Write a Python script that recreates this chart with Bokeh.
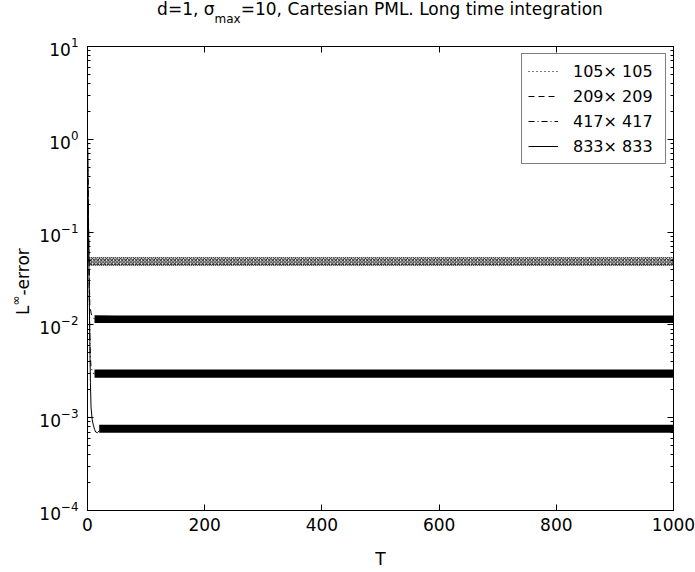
from bokeh.plotting import figure
from bokeh.layouts import column, row
from bokeh.models import (Range1d, LinearAxis, LogAxis, FixedTicker, LogTicker,
                          Legend, LegendItem, CustomJSTickFormatter, Div)
from bokeh.embed import file_html
from bokeh.resources import INLINE

FONT = "DejaVu Sans"

# ---------------- data ----------------
X_TICKS = [0, 200, 400, 600, 800, 1000]
LABELS = ["105\u00d7 105", "209\u00d7 209", "417\u00d7 417", "833\u00d7 833"]

# initial transients
T_105 = [0, 0.5, 1, 1.5, 2, 3]
E_105 = [1.0, 0.3, 0.09, 0.055, 0.05, 0.048]
T_209 = [0, 1, 2, 3, 4, 5, 6, 8, 10, 12]
E_209 = [1.0, 0.32, 0.1, 0.035, 0.016, 0.015, 0.0135, 0.012, 0.0118, 0.0116]
T_417 = [0, 1, 2, 3, 4, 5, 6, 8, 10, 12]
E_417 = [1.0, 0.3, 0.08, 0.022, 0.008, 0.0045, 0.0035, 0.0032, 0.0030, 0.0030]
T_833 = [0, 1, 2, 3, 4, 5, 6, 8, 10, 12, 14, 17, 20]
E_833 = [1.0, 0.3, 0.08, 0.02, 0.006, 0.0024, 0.0013, 0.00095, 0.00083, 0.00075, 0.00070, 0.00069, 0.00072]

# long-time oscillation envelopes (upper / lower) on a common time grid
BAND_T = [50, 100, 150, 200, 250, 300, 350, 400, 450, 500,
          550, 600, 650, 700, 750, 800, 850, 900, 950, 1000]
START_105, START_209, START_417, START_833 = 3, 12, 12, 20
HI_105 = [0.053, 0.053, 0.053, 0.053, 0.053, 0.053, 0.053, 0.053, 0.053, 0.053, 0.053,
          0.053, 0.053, 0.053, 0.053, 0.053, 0.053, 0.053, 0.053, 0.053, 0.053]
LO_105 = [0.044, 0.044, 0.044, 0.044, 0.044, 0.044, 0.044, 0.044, 0.044, 0.044, 0.044,
          0.044, 0.044, 0.044, 0.044, 0.044, 0.044, 0.044, 0.044, 0.044, 0.044]
HI_209 = [0.0127, 0.0126, 0.0126, 0.0126, 0.0126, 0.0126, 0.0126, 0.0126, 0.0126, 0.0126, 0.0126,
          0.0126, 0.0126, 0.0126, 0.0126, 0.0126, 0.0126, 0.0126, 0.0126, 0.0126, 0.0126]
LO_209 = [0.0105, 0.0105, 0.0105, 0.0105, 0.0105, 0.0105, 0.0105, 0.0105, 0.0105, 0.0105, 0.0105,
          0.0105, 0.0105, 0.0105, 0.0105, 0.0105, 0.0105, 0.0105, 0.0105, 0.0105, 0.0105]
HI_417 = [0.0033, 0.0033, 0.0033, 0.0033, 0.0033, 0.0033, 0.0033, 0.0033, 0.0033, 0.0033, 0.0033,
          0.0033, 0.0033, 0.0033, 0.0033, 0.0033, 0.0033, 0.0033, 0.0033, 0.0033, 0.0033]
LO_417 = [0.0027, 0.0027, 0.0027, 0.0027, 0.0027, 0.0027, 0.0027, 0.0027, 0.0027, 0.0027, 0.0027,
          0.0027, 0.0027, 0.0027, 0.0027, 0.0027, 0.0027, 0.0027, 0.0027, 0.0027, 0.0027]
HI_833 = [0.00084, 0.00084, 0.00084, 0.00084, 0.00084, 0.00084, 0.00084, 0.00084, 0.00084, 0.00084, 0.00084,
          0.00084, 0.00084, 0.00084, 0.00084, 0.00084, 0.00084, 0.00084, 0.00084, 0.00084, 0.00084]
LO_833 = [0.00069, 0.00069, 0.00069, 0.00069, 0.00069, 0.00069, 0.00069, 0.00069, 0.00069, 0.00069, 0.00069,
          0.00069, 0.00069, 0.00069, 0.00069, 0.00069, 0.00069, 0.00069, 0.00069, 0.00069, 0.00069]

# ---------------- figure ----------------
p = figure(width=659, height=538, output_backend="svg", toolbar_location=None,
           x_range=Range1d(0, 1000), y_range=Range1d(1e-4, 10), y_axis_type="log",
           min_border_left=51, min_border_right=22, min_border_top=12, min_border_bottom=62,
           margin=0)
p.grid.visible = False
p.outline_line_color = "black"
p.background_fill_color = "white"
p.border_fill_color = "white"


def style(ax):
    ax.axis_line_color = "black"
    ax.axis_line_width = 1
    ax.major_tick_in = 6
    ax.major_tick_out = 0
    ax.minor_tick_in = 3
    ax.minor_tick_out = 0
    ax.major_tick_line_color = "black"
    ax.minor_tick_line_color = "black"
    ax.major_label_text_font = FONT
    ax.major_label_text_font_size = "17px"
    ax.major_label_text_color = "black"


xa = p.xaxis[0]
xa.ticker = FixedTicker(ticks=X_TICKS)
xa.major_label_standoff = 7
style(xa)
xa.axis_label = "T"
xa.axis_label_text_font = FONT
xa.axis_label_text_font_size = "17px"
xa.axis_label_text_font_style = "normal"
xa.axis_label_text_color = "black"
xa.axis_label_standoff = 15

ya = p.yaxis[0]
ya.ticker = LogTicker(num_minor_ticks=10, desired_num_ticks=6)
ya.major_label_standoff = 9
style(ya)

blank = CustomJSTickFormatter(code="return ''")
top = LinearAxis(ticker=FixedTicker(ticks=X_TICKS), formatter=blank)
style(top)
top.major_label_text_font_size = "1px"
top.major_label_standoff = 0
p.add_layout(top, "above")
right = LogAxis(ticker=LogTicker(num_minor_ticks=10, desired_num_ticks=6), formatter=blank)
style(right)
right.major_label_text_font_size = "1px"
right.major_label_standoff = 0
p.add_layout(right, "right")

# ---------------- bands ----------------
p.varea(x=[START_105] + BAND_T, y1=LO_105, y2=HI_105, fill_color=None,
        hatch_pattern="x", hatch_color="#111111", hatch_scale=3.5, hatch_weight=1)
p.line([START_105] + BAND_T, HI_105, line_color="black", line_width=1, line_dash="1 1")
p.line([START_105] + BAND_T, LO_105, line_color="black", line_width=1, line_dash="1 1")
p.varea(x=[START_209] + BAND_T, y1=LO_209, y2=HI_209, fill_color="black")
p.varea(x=[START_417] + BAND_T, y1=LO_417, y2=HI_417, fill_color="black")
p.varea(x=[START_833] + BAND_T, y1=LO_833, y2=HI_833, fill_color="black")

# ---------------- transient lines (also used for legend) ----------------
r105 = p.line(T_105, E_105, line_color="black", line_width=1, line_dash="1 3")
r209 = p.line(T_209, E_209, line_color="black", line_width=1, line_dash="6 4")
r417 = p.line(T_417, E_417, line_color="black", line_width=1, line_dash="6 3 1 3")
r833 = p.line(T_833, E_833, line_color="black", line_width=1)

legend = Legend(items=[LegendItem(label=LABELS[0], renderers=[r105]),
                       LegendItem(label=LABELS[1], renderers=[r209]),
                       LegendItem(label=LABELS[2], renderers=[r417]),
                       LegendItem(label=LABELS[3], renderers=[r833])],
                location="top_right", margin=7, padding=6, spacing=3,
                glyph_width=30, glyph_height=22, label_height=22, label_width=86,
                label_standoff=15,
                label_text_font=FONT, label_text_font_size="16px", label_text_color="black",
                border_line_color="black", border_line_width=1,
                background_fill_color="white", background_fill_alpha=1)
p.add_layout(legend)

# ---------------- title and y label (HTML for sub/superscripts) ----------------
title_html = (
    "<div style=\"position:relative; width:695px; height:34px;\">"
    "<div style=\"position:absolute; left:380px; top:1px; transform:translateX(-50%); "
    "font-family:'DejaVu Sans'; font-size:17px; line-height:17px; white-space:nowrap; color:black;\">"
    "d=1, \u03c3<span style=\"font-size:12px; position:relative; top:8px;\">max</span>"
    "=10, Cartesian PML. Long time integration</div></div>"
)
title_div = Div(text=title_html, width=695, height=34, margin=0)

ylab_html = (
    "<div style=\"position:relative; width:36px; height:538px;\">"
    "<div style=\"position:absolute; left:15px; top:281px; transform-origin:0 0; "
    "transform:rotate(-90deg); font-family:'DejaVu Sans'; font-size:17px; line-height:17px; "
    "white-space:nowrap; color:black;\">"
    "L<span style=\"font-size:12px; position:relative; top:-9px;\">\u221e</span>-error</div></div>"
)
ylab_div = Div(text=ylab_html, width=36, height=538, margin=0)

layout = column(title_div, row(ylab_div, p, spacing=0), spacing=0)

open("out.html", "w").write(file_html(layout, INLINE))
